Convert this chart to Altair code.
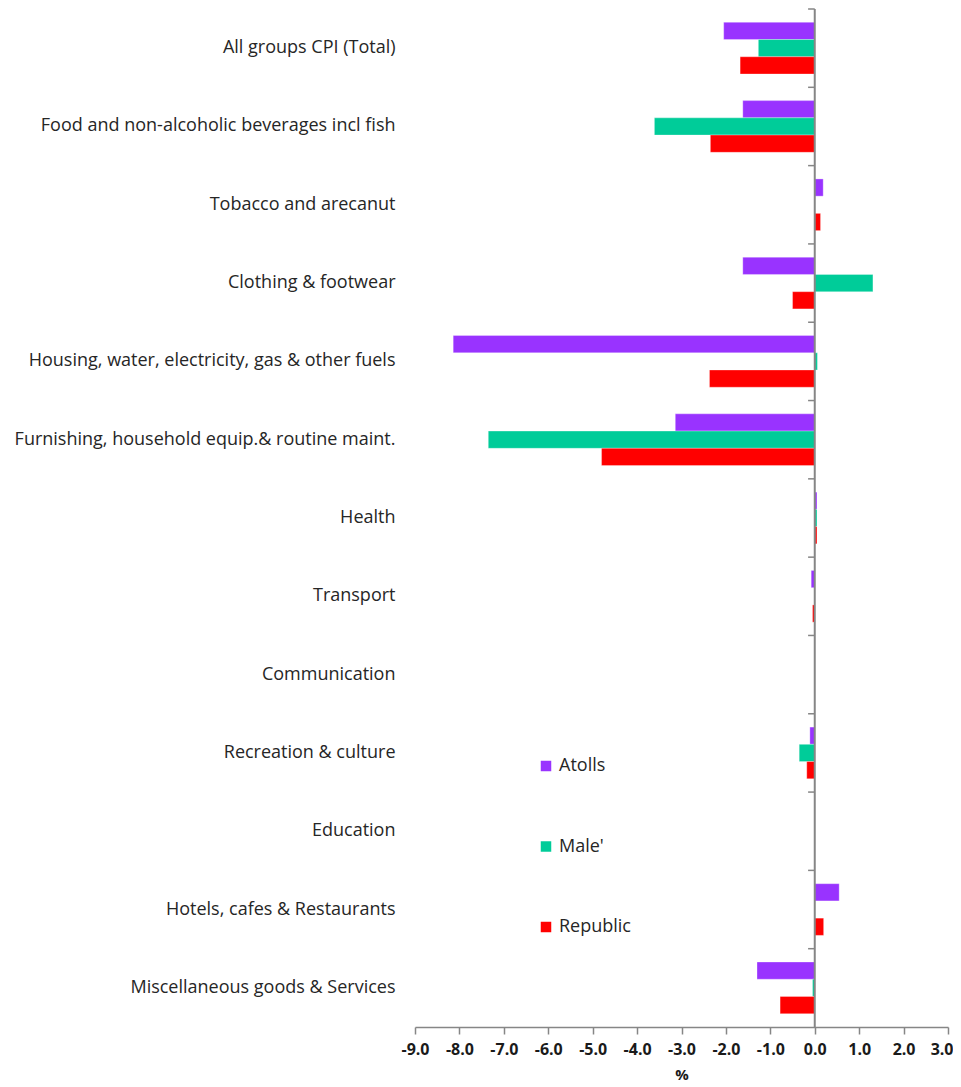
import altair as alt
import pandas as pd

categories = [
    "All groups CPI (Total)",
    "Food and non-alcoholic beverages incl fish",
    "Tobacco and arecanut",
    "Clothing & footwear",
    "Housing, water, electricity, gas & other fuels",
    "Furnishing, household equip.& routine maint.",
    "Health",
    "Transport",
    "Communication",
    "Recreation & culture",
    "Education",
    "Hotels, cafes & Restaurants",
    "Miscellaneous goods & Services",
]
series = ["Atolls", "Male'", "Republic"]
colors = ["#9933FF", "#00CC99", "#FF0000"]

atolls = [-2.05, -1.62, 0.19, -1.62, -8.14, -3.14, 0.05, -0.08, 0.0, -0.11, 0.0, 0.55, -1.30]
male = [-1.27, -3.61, 0.0, 1.31, 0.06, -7.35, 0.05, 0.0, 0.0, -0.35, 0.0, 0.0, -0.05]
republic = [-1.68, -2.35, 0.13, -0.50, -2.37, -4.80, 0.05, -0.05, 0.0, -0.18, 0.0, 0.20, -0.78]

x_ticks = [-9, -8, -7, -6, -5, -4, -3, -2, -1, 0, 1, 2, 3]

rows = []
for s, vals in zip(series, [atolls, male, republic]):
    for c, v in zip(categories, vals):
        rows.append({"category": c, "series": s, "value": v})
df = pd.DataFrame(rows)

H = 1018
W = 533
step = H / len(categories)

yscale = alt.Scale(domain=categories, paddingInner=0.34, paddingOuter=0.17)

bars = alt.Chart(df).mark_bar(stroke="white", strokeWidth=0.5, strokeOpacity=0.6).encode(
    x=alt.X(
        "value:Q",
        scale=alt.Scale(domain=[-9, 3], nice=False, zero=False),
        axis=alt.Axis(
            values=x_ticks,
            title="%",
            titleFont="Open Sans",
            titleFontSize=15,
            titleFontWeight="bold",
            titleColor="#1a1a1a",
            titlePadding=10,
            labelExpr="replace(format(datum.value, '.1f'), '\u2212', '-')",
            labelFont="Open Sans",
            labelFontSize=16,
            labelFontWeight="bold",
            labelColor="#1a1a1a",
            labelPadding=7,
            labelFlush=False,
            labelOverlap=False,
            labelAlign=alt.condition("datum.value == 3", alt.value("right"), alt.value("center")),
            labelOffset=alt.condition("datum.value == 3", alt.value(5), alt.value(0)),
            grid=False,
            domainColor="#868686",
            domainWidth=1.5,
            tickColor="#868686",
            tickSize=7,
            tickWidth=1.5,
        ),
    ),
    y=alt.Y(
        "category:N",
        sort=categories,
        scale=yscale,
        axis=alt.Axis(
            title=None,
            domain=False,
            ticks=False,
            labelPadding=20,
            labelFont="Open Sans",
            labelFontSize=18,
            labelColor="#262626",
            labelLimit=420,
            minExtent=400,
            maxExtent=400,
        ),
    ),
    yOffset=alt.YOffset("series:N", sort=series, scale=alt.Scale(paddingInner=0, paddingOuter=0)),
    color=alt.Color(
        "series:N",
        sort=series,
        scale=alt.Scale(domain=series, range=colors),
        legend=alt.Legend(
            title=None,
            orient="none",
            legendX=122,
            legendY=748,
            symbolType="square",
            symbolSize=110,
            symbolStrokeWidth=0,
            labelFont="Open Sans",
            labelFontSize=18,
            labelColor="#262626",
            labelOffset=4,
            rowPadding=62.5,
            padding=0,
        ),
    ),
)

zero_df = pd.DataFrame({"zero": [0]})
zero_line = alt.Chart(zero_df).mark_rule(color="#868686", strokeWidth=2).encode(
    x=alt.X("zero:Q")
)

tick_df = pd.DataFrame({"category": categories, "x0": [-0.15] * len(categories), "x1": [0.0] * len(categories)})
cat_ticks = alt.Chart(tick_df).mark_rule(color="#868686", strokeWidth=1.5, yOffset=-step / 2).encode(
    y=alt.Y("category:N", sort=categories, scale=yscale),
    x=alt.X("x0:Q"),
    x2="x1:Q",
)

chart = (
    alt.layer(bars, zero_line, cat_ticks)
    .properties(
        width=W,
        height=H,
        background="white",
        padding={"left": 6, "top": 0, "right": 0, "bottom": 0},
    )
    .configure_view(strokeWidth=0, stroke="transparent")
)

chart.save("out.html", embed_options={"renderer": "svg", "actions": False})
